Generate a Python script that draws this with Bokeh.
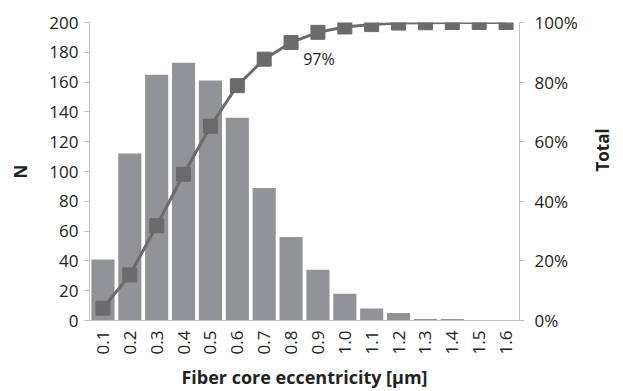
import math
from bokeh.plotting import figure
from bokeh.models import Range1d, LinearAxis, FixedTicker, PrintfTickFormatter, FactorRange
from bokeh.core.properties import value
from bokeh.embed import file_html
from bokeh.resources import INLINE

categories = ["0.1", "0.2", "0.3", "0.4", "0.5", "0.6", "0.7", "0.8",
              "0.9", "1.0", "1.1", "1.2", "1.3", "1.4", "1.5", "1.6"]
counts = [41, 112, 165, 173, 161, 136, 89, 56, 34, 18, 8, 5, 1, 1, 0, 0]
cumulative_pct = [4.1, 15.3, 31.8, 49.1, 65.2, 78.8, 87.7, 93.3, 96.7, 98.5,
                  99.3, 99.8, 99.9, 100, 100, 100]
left_ticks = [0, 20, 40, 60, 80, 100, 120, 140, 160, 180, 200]
right_ticks = [0, 20, 40, 60, 80, 100]
annot_cat = "0.9"
annot_val = 96.7
annot_text = "97%"

FONT = "Open Sans"
AXIS_COLOR = "#bfbfbf"
TEXT_COLOR = "#222222"

p = figure(frame_width=430, frame_height=298, x_range=FactorRange(*categories, range_padding=0),
           y_range=Range1d(0, 200), output_backend="svg", toolbar_location=None,
           min_border_left=89, min_border_right=100, min_border_top=22, min_border_bottom=70)
p.extra_y_ranges = {"pct": Range1d(0, 100)}
p.outline_line_color = None
p.xgrid.grid_line_color = None
p.ygrid.grid_line_color = None

p.vbar(x=categories, top=counts, width=0.86, color="#929397", line_color=None)
p.line(x=categories, y=cumulative_pct, y_range_name="pct", line_color="#6b6b6d", line_width=3)
p.scatter(x=categories, y=cumulative_pct, y_range_name="pct", marker="square", size=14,
          fill_color="#6b6b6d", line_color="#6b6b6d")
p.text(x=[annot_cat], y=[annot_val], text=[annot_text], y_range_name="pct",
       text_font=value(FONT), text_font_size="16px", text_color=TEXT_COLOR,
       text_align="center", text_baseline="top", y_offset=16, x_offset=1)

def style(ax):
    ax.axis_line_color = AXIS_COLOR
    ax.major_tick_line_color = AXIS_COLOR
    ax.minor_tick_line_color = None
    ax.major_tick_in = 0
    ax.major_label_text_font = FONT
    ax.major_label_text_font_size = "17px"
    ax.major_label_text_color = TEXT_COLOR
    ax.axis_label_text_font = FONT
    ax.axis_label_text_font_size = "17px"
    ax.axis_label_text_font_style = "bold"
    ax.axis_label_text_color = TEXT_COLOR

yl = p.yaxis[0]
style(yl)
yl.ticker = FixedTicker(ticks=left_ticks)
yl.major_tick_out = 5
yl.major_label_standoff = 6
yl.axis_label = "N"
yl.axis_label_standoff = 14

yr = LinearAxis(y_range_name="pct", ticker=FixedTicker(ticks=right_ticks),
                formatter=PrintfTickFormatter(format="%d%%"), axis_label="Total")
style(yr)
yr.major_tick_out = 5
yr.major_label_standoff = 10
yr.axis_label_standoff = 22
yr.axis_label_orientation = math.pi / 2
p.add_layout(yr, "right")

xa = p.xaxis[0]
style(xa)
xa.axis_label_text_font_size = "18px"
xa.major_tick_out = 0
xa.major_label_orientation = math.pi / 2
xa.major_label_standoff = 10
xa.axis_label = "Fiber core eccentricity [µm]"
xa.axis_label_standoff = 8

open("out.html", "w").write(file_html(p, INLINE))
